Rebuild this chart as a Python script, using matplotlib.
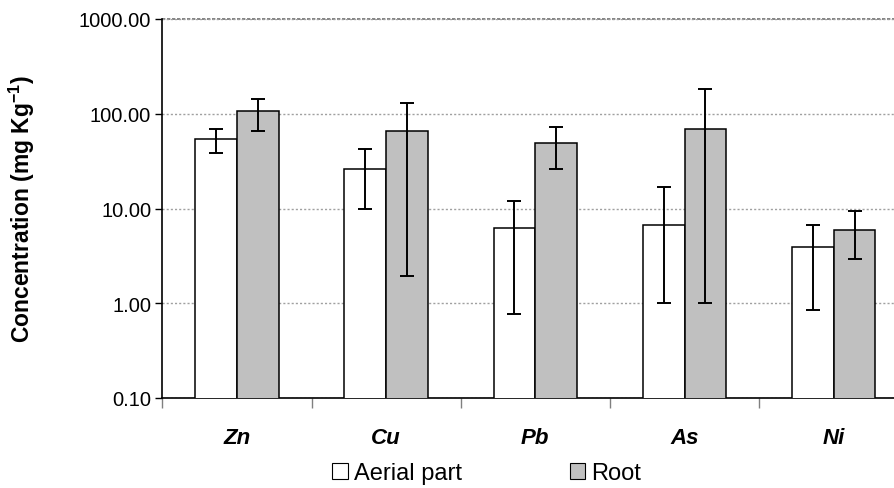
import numpy as np
import matplotlib
matplotlib.use("Agg")
import matplotlib.pyplot as plt
from matplotlib.ticker import FixedLocator, FormatStrFormatter, NullLocator
from matplotlib.patches import Patch

plt.rcParams['font.family'] = ['Liberation Sans', 'DejaVu Sans']

# 数据
metals = ['Zn', 'Cu', 'Pb', 'As', 'Ni']
aerial = [53.7, 26.1, 6.3, 6.7, 3.9]
aerial_low = [38.2, 9.8, 0.77, 1.0, 0.85]
aerial_high = [68.6, 42.4, 11.9, 16.7, 6.7]
root = [106.0, 65.8, 48.7, 69.0, 6.0]
root_low = [65.3, 1.95, 26.0, 1.0, 2.9]
root_high = [142.0, 130.0, 72.0, 181.0, 9.3]
series_labels = ['Aerial part', 'Root']
yticks = [0.1, 1, 10, 100, 1000]

x = np.arange(len(metals))
w = 0.28

fig = plt.figure(figsize=(8.95, 4.89), dpi=100)
ax = fig.add_axes([162.3 / 895, 90 / 489, 746 / 895, 379 / 489])

a = np.array(aerial)
r = np.array(root)
a_err = [a - np.array(aerial_low), np.array(aerial_high) - a]
r_err = [r - np.array(root_low), np.array(root_high) - r]

ekw = dict(ecolor='black', elinewidth=1.4, capsize=5, capthick=1.4)
ax.bar(x - w / 2, a, w, color='white', edgecolor='black', linewidth=1.1,
       yerr=a_err, error_kw=ekw, zorder=3)
ax.bar(x + w / 2, r, w, color='#c0c0c0', edgecolor='black', linewidth=1.1,
       yerr=r_err, error_kw=ekw, zorder=3)

ax.set_yscale('log')
ax.set_ylim(0.1, 1000)
ax.set_xlim(-0.5, len(metals) - 0.5)
ax.yaxis.set_major_locator(FixedLocator(yticks))
ax.yaxis.set_major_formatter(FormatStrFormatter('%.2f'))
ax.yaxis.set_minor_locator(NullLocator())

# x 轴：边界处刻度，类别标签居中
ax.xaxis.set_major_locator(FixedLocator(np.arange(-0.5, len(metals), 1.0)))
ax.xaxis.set_major_formatter(plt.NullFormatter())
ax.xaxis.set_minor_locator(FixedLocator(x))
ax.set_xticklabels(metals, minor=True, fontsize=16, fontweight='bold', fontstyle='italic')
ax.tick_params(axis='x', which='minor', length=0, pad=21)
ax.tick_params(axis='x', which='major', length=7, width=1, color='#808080', direction='out')
ax.tick_params(axis='y', which='major', length=5, width=1, labelsize=14.5, pad=3)

ax.grid(axis='y', which='major', color='#a0a0a0', linestyle=(0, (1.5, 1.5)), linewidth=1, zorder=0)
for s in ['top', 'right']:
    ax.spines[s].set_visible(False)
ax.spines['left'].set_linewidth(1.2)
ax.spines['bottom'].set_linewidth(1.2)
ax.axhline(1000, color='#707070', linestyle=(0, (2, 1)), linewidth=1.2, clip_on=False, zorder=1)

ax.set_ylabel('Concentration (mg Kg$^{\\mathregular{-1}}$)', fontsize=16.5, fontweight='bold')
ax.yaxis.set_label_coords(-0.168, 0.5)

handles = [Patch(facecolor='white', edgecolor='black', linewidth=0.8),
           Patch(facecolor='#c0c0c0', edgecolor='black', linewidth=0.8)]
fig.legend(handles, series_labels, loc='center', bbox_to_anchor=(0.5436, 0.03), ncol=2,
           frameon=False, fontsize=17, handlelength=0.65, handleheight=0.65,
           handletextpad=0.25, columnspacing=4.57, borderpad=0.2)

fig.savefig('out.png', dpi=100)
